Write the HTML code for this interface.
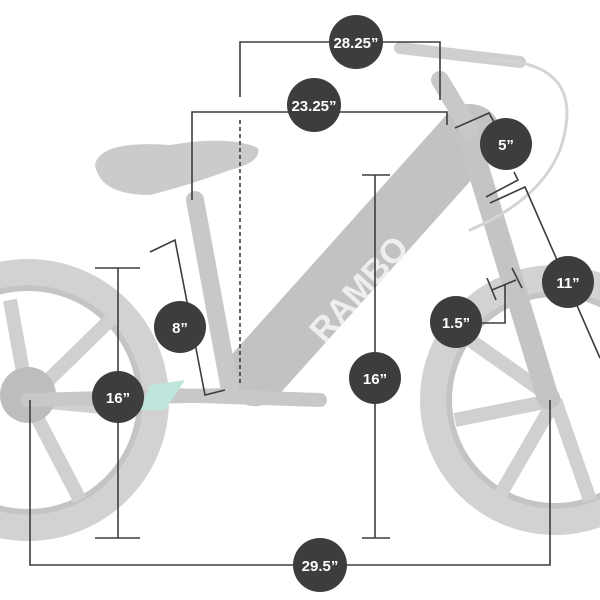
<!DOCTYPE html>
<html><head><meta charset="utf-8"><style>
html,body{margin:0;padding:0;background:#fff;width:600px;height:600px;overflow:hidden}
svg{display:block}
text{font-family:"Liberation Sans",sans-serif;font-weight:bold;fill:#fff;text-anchor:middle}
</style></head><body>
<svg width="600" height="600" viewBox="0 0 600 600">
<!-- rear wheel -->
<g fill="none">
<circle cx="28" cy="400" r="128" stroke="#d2d2d2" stroke-width="26"/>
<circle cx="28" cy="400" r="112" stroke="#c4c4c4" stroke-width="6"/>
<g stroke="#d0d0d0" stroke-width="14">
<line x1="28" y1="400" x2="110" y2="320"/><line x1="28" y1="400" x2="135" y2="410"/>
<line x1="28" y1="400" x2="80" y2="500"/><line x1="28" y1="400" x2="10" y2="300"/>
</g>
<!-- front wheel -->
<circle cx="555" cy="400" r="122" stroke="#d2d2d2" stroke-width="26"/>
<circle cx="555" cy="400" r="106" stroke="#c4c4c4" stroke-width="6"/>
<g stroke="#d0d0d0" stroke-width="14">
<line x1="555" y1="400" x2="470" y2="340"/><line x1="555" y1="400" x2="455" y2="420"/>
<line x1="555" y1="400" x2="500" y2="495"/><line x1="555" y1="400" x2="590" y2="500"/>
</g>
</g>
<circle cx="28" cy="395" r="28" fill="#bdbdbd"/>
<circle cx="550" cy="398" r="10" fill="#bdbdbd"/>
<!-- frame -->
<g stroke-linecap="round" fill="none">
<line x1="470" y1="135" x2="255" y2="375" stroke="#c2c2c2" stroke-width="62"/>
<line x1="195" y1="200" x2="230" y2="390" stroke="#c8c8c8" stroke-width="18"/>
<line x1="468" y1="135" x2="548" y2="398" stroke="#c4c4c4" stroke-width="22"/>
<line x1="170" y1="395" x2="320" y2="400" stroke="#c8c8c8" stroke-width="14"/>
<line x1="28" y1="400" x2="230" y2="395" stroke="#c8c8c8" stroke-width="14"/>
<line x1="440" y1="80" x2="470" y2="130" stroke="#c8c8c8" stroke-width="18"/>
<line x1="400" y1="48" x2="520" y2="62" stroke="#cfcfcf" stroke-width="12"/>
<path d="M490 60 Q590 60 560 150 Q540 200 470 230" stroke="#d4d4d4" stroke-width="3"/>
</g>
<path d="M150 385 L185 380 L165 410 L140 410Z" fill="#bfe6dc"/>
<!-- seat -->
<path d="M95 165 Q100 140 170 145 Q230 135 258 148 Q262 162 230 170 Q190 185 150 195 Q100 195 95 165Z" fill="#cbcbcb"/>
<text x="360" y="300" font-size="34" fill="#eee" transform="rotate(-48 360 290)" style="fill:#eeeeee">RAMBO</text>
<!-- dimension lines -->
<g stroke="#3d3d3d" stroke-width="1.6" fill="none">
<polyline points="240,97 240,42 440,42 440,100"/>
<polyline points="192,200 192,112 447,112 447,125"/>
<line x1="240" y1="120" x2="240" y2="385" stroke-dasharray="4,3"/>
<polyline points="455,128 489,113 494,122"/>
<polyline points="486,197 518,180 514,172"/>
<polyline points="490,203 525,187 600,358"/>
<line x1="487" y1="278" x2="496" y2="300"/><line x1="512" y1="268" x2="522" y2="288"/>
<line x1="492" y1="290" x2="516" y2="280"/>
<polyline points="505,285 505,323 475,323"/>
<polyline points="150,252 175,240 205,395 225,390"/>
<line x1="118" y1="268" x2="118" y2="538"/><line x1="95" y1="268" x2="140" y2="268"/><line x1="95" y1="538" x2="140" y2="538"/>
<line x1="375" y1="175" x2="375" y2="538"/><line x1="362" y1="175" x2="390" y2="175"/><line x1="362" y1="538" x2="390" y2="538"/>
<polyline points="30,400 30,565 550,565 550,400"/>
</g>
<!-- badges -->
<g fill="#3d3d3d">
<circle cx="356" cy="42" r="27"/><circle cx="314" cy="105" r="27"/>
<circle cx="506" cy="144" r="26"/><circle cx="568" cy="282" r="26"/>
<circle cx="180" cy="327" r="26"/><circle cx="456" cy="322" r="26"/>
<circle cx="118" cy="397" r="26"/><circle cx="375" cy="378" r="26"/>
<circle cx="320" cy="565" r="27"/>
</g>
<g font-size="15">
<text x="356" y="48">28.25”</text><text x="314" y="111">23.25”</text>
<text x="506" y="150">5”</text><text x="568" y="288">11”</text>
<text x="180" y="333">8”</text><text x="456" y="328">1.5”</text>
<text x="118" y="403">16”</text><text x="375" y="384">16”</text>
<text x="320" y="571">29.5”</text>
</g>
</svg>
</body></html>
